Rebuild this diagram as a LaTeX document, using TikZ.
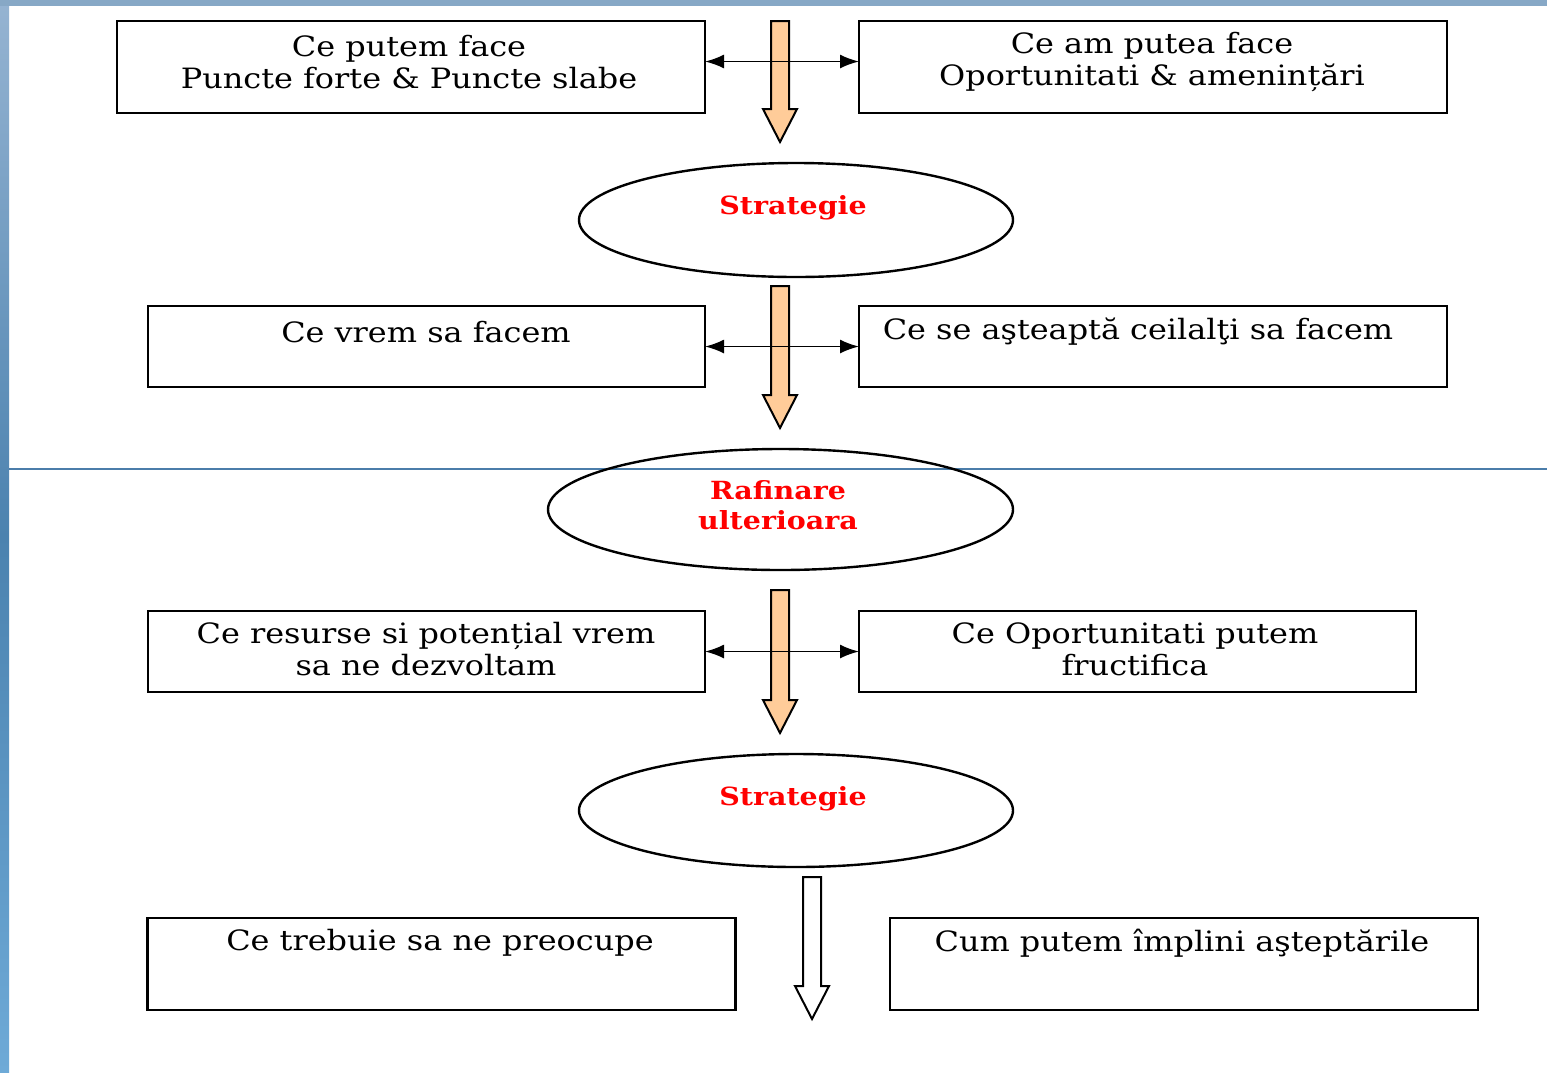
\documentclass[tikz,border=0pt]{standalone}
\usepackage{fontspec}
\setmainfont{DejaVu Serif}[FakeStretch=1.14]
\usetikzlibrary{shapes.geometric,arrows.meta}
\definecolor{peach}{RGB}{255,204,153}
\definecolor{slideline}{RGB}{75,125,170}
\definecolor{striptop}{RGB}{150,180,210}
\definecolor{stripmid}{RGB}{75,130,175}
\definecolor{stripbot}{RGB}{110,170,215}
\definecolor{topband}{RGB}{135,168,198}
\newcommand{\fatarrow}[4]{%
  \draw[fatline, fill=#4] ({#1-9},#2) -- ({#1+9},#2) -- ({#1+9},{#3-33}) -- ({#1+17},{#3-33})
    -- (#1,#3) -- ({#1-17},{#3-33}) -- ({#1-9},{#3-33}) -- cycle;}
\begin{document}
\begin{tikzpicture}[x=1pt,y=-1pt,
  box/.style={draw, line width=2.4pt, inner sep=0pt, outer sep=0pt},
  txt/.style={align=center, inner sep=0pt, font=\fontsize{28}{32}\selectfont},
  ell/.style={draw, ellipse, line width=2.4pt, inner sep=0pt, outer sep=0pt},
  redtxt/.style={align=center, inner sep=0pt, text=red, font=\fontsize{25}{30}\selectfont\bfseries},
  fatline/.style={draw=black, line width=2pt, line join=miter},
  dbl/.style={{Latex[length=19pt,width=14pt]}-{Latex[length=19pt,width=14pt]}, line width=1.8pt}]
\useasboundingbox (0,0) rectangle (1547,1072);
\fill[white] (0,0) rectangle (1547,1072);
% slide background
\shade[top color=striptop, bottom color=stripbot, middle color=stripmid] (0,0) rectangle (9,1072);
\fill[topband] (0,0) rectangle (1547,6);
\draw[slideline, line width=1.5pt] (9,469) -- (1547,469);

% fat arrows (drawn under the double arrows)
\fatarrow{780}{21}{142}{peach}
\fatarrow{780}{286}{428}{peach}
\fatarrow{780}{590}{733}{peach}
\fatarrow{812}{877}{1019}{white}

% row 1
\node[box, minimum width=588pt, minimum height=92pt] (b1) at (411,67) {};
\node[txt] (t1) at (409,62) {Ce putem face\\Puncte forte \& Puncte slabe};
\node[box, minimum width=588pt, minimum height=92pt] (b2) at (1153,67) {};
\node[txt] (t2) at (1152,62) {Ce am putea face\\Oportunitati \& amenințări};
\draw[dbl] ([yshift=5.5pt]b1.east) -- ([yshift=5.5pt]b2.west);

\node[ell, minimum width=434pt, minimum height=114pt] (e1) at (796,220) {};
\node[redtxt] (s1) at (793,208) {Strategie};

% row 2
\node[box, minimum width=557pt, minimum height=81pt] (b3) at (426.5,346.5) {};
\node[txt] (t3) at (426,332) {Ce vrem sa facem};
\node[box, minimum width=588pt, minimum height=81pt] (b4) at (1153,346.5) {};
\node[txt] (t4) at (1138,332) {Ce se aşteaptă ceilalţi sa facem};
\draw[dbl] (b3.east) -- (b4.west);

\node[ell, minimum width=465pt, minimum height=121pt] (e2) at (780.5,509.5) {};
\node[redtxt] (s2) at (778,505) {Rafinare\\ulterioara};

% row 3
\node[box, minimum width=557pt, minimum height=81pt] (b5) at (426.5,651.5) {};
\node[txt] (t5) at (426,649.5) {Ce resurse si potențial vrem\\sa ne dezvoltam};
\node[box, minimum width=557pt, minimum height=81pt] (b6) at (1137.5,651.5) {};
\node[txt] (t6) at (1135,649.5) {Ce Oportunitati putem\\fructifica};
\draw[dbl] (b5.east) -- (b6.west);

\node[ell, minimum width=434pt, minimum height=113pt] (e3) at (796,810.5) {};
\node[redtxt] (s3) at (793,799) {Strategie};

% row 4
\node[box, minimum width=588pt, minimum height=92pt] (b7) at (441.5,964) {};
\node[txt] (t7) at (440,943) {Ce trebuie sa ne preocupe};
\node[box, minimum width=588pt, minimum height=92pt] (b8) at (1184,964) {};
\node[txt] (t8) at (1182,943) {Cum putem împlini aşteptările};
\end{tikzpicture}
\end{document}
